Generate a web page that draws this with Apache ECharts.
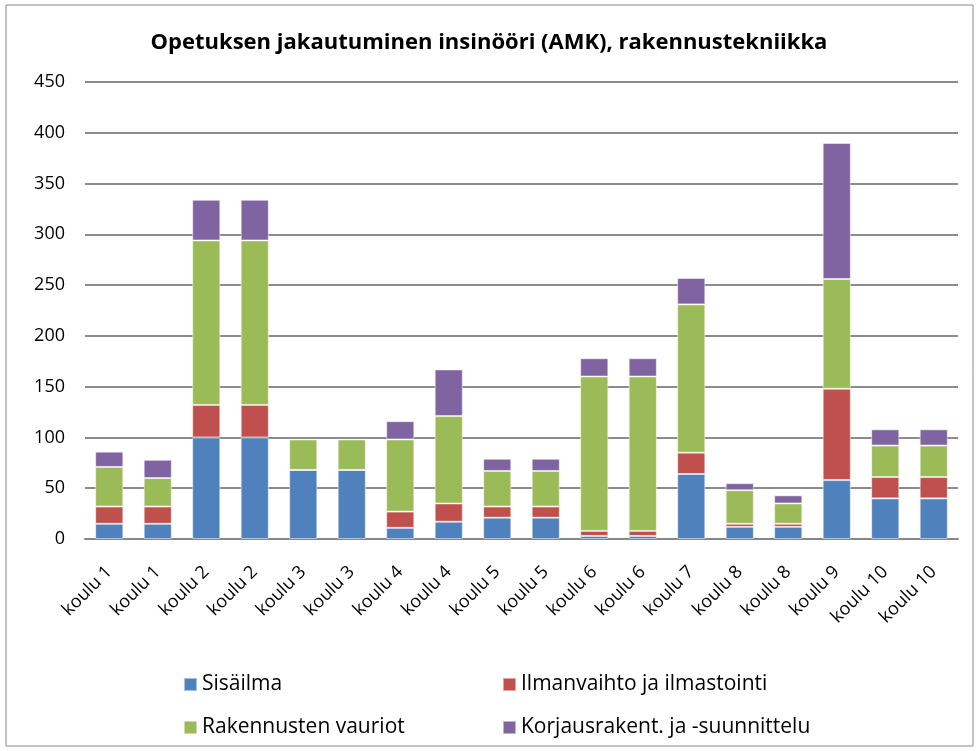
<!DOCTYPE html>
<html><head><meta charset="utf-8">
<script src="https://cdn.jsdelivr.net/npm/echarts@6/dist/echarts.min.js"></script>
<style>html,body{margin:0;padding:0;background:#fff}#c{width:978px;height:751px}</style>
</head><body><div id="c"></div>
<script>
const categories = ['koulu 1','koulu 1','koulu 2','koulu 2','koulu 3','koulu 3','koulu 4','koulu 4','koulu 5','koulu 5','koulu 6','koulu 6','koulu 7','koulu 8','koulu 8','koulu 9','koulu 10','koulu 10'];
const sisailma =     [15, 15, 100, 100, 68, 68, 11, 17, 21, 21, 3, 3, 64, 12, 12, 58, 40, 40];
const ilmanvaihto =  [17, 17, 32, 32, 0, 0, 16, 18, 11, 11, 5, 5, 21, 3, 3, 90, 21, 21];
const vauriot =      [39, 28, 162, 162, 30, 30, 71, 86, 35, 35, 152, 152, 146, 33, 20, 108, 31, 31];
const korjaus =      [15, 18, 40, 40, 0, 0, 18, 46, 12, 12, 18, 18, 26, 7, 8, 134, 16, 16];
const seriesNames = ['Sisäilma','Ilmanvaihto ja ilmastointi','Rakennusten vauriot','Korjausrakent. ja -suunnittelu'];
const colors = ['#4F81BD','#C0504D','#9BBB59','#8064A2'];
const yTicks = [0,50,100,150,200,250,300,350,400,450];

const font = "'Open Sans', 'Noto Sans', sans-serif";
const chart = echarts.init(document.getElementById('c'), null, {renderer:'canvas'});
const dataSets = [sisailma, ilmanvaihto, vauriot, korjaus];
const legendPos = [[178,669],[497,669],[178,712],[497,712]];
chart.setOption({
  animation:false,
  backgroundColor:'#fff',
  textStyle:{fontFamily:font},
  graphic:[{type:'rect',shape:{x:6,y:5,width:967,height:741},style:{fill:'none',stroke:'#888',lineWidth:1}}],
  title:{text:'Opetuksen jakautuminen insinööri (AMK), rakennustekniikka',left:'center',top:27,
    textStyle:{fontFamily:font,fontWeight:'bold',fontSize:22,color:'#000'}},
  legend: seriesNames.map((n,i)=>({data:[n],left:legendPos[i][0],top:legendPos[i][1],itemWidth:13,itemHeight:13,
    icon:'rect',itemGap:6,textStyle:{fontFamily:font,fontSize:21,color:'#000'}})),
  grid:{left:85,right:20,top:82,bottom:212,containLabel:false},
  xAxis:{type:'category',data:categories,
    axisLine:{lineStyle:{color:'#868686',width:2}},axisTick:{show:false},
    axisLabel:{rotate:45,fontSize:18,color:'#000',fontFamily:font,margin:30,interval:0}},
  yAxis:{type:'value',min:0,max:450,interval:50,
    axisLine:{show:false},axisTick:{show:false},
    splitLine:{lineStyle:{color:'#8c8c8c',width:2}},
    axisLabel:{fontSize:18,color:'#000',fontFamily:font,margin:20}},
  series: seriesNames.map((n,i)=>({name:n,type:'bar',stack:'a',data:dataSets[i],barWidth:'58%',
    itemStyle:{color:colors[i],borderColor:'rgba(255,255,255,0.5)',borderWidth:1}}))
});
</script></body></html>
